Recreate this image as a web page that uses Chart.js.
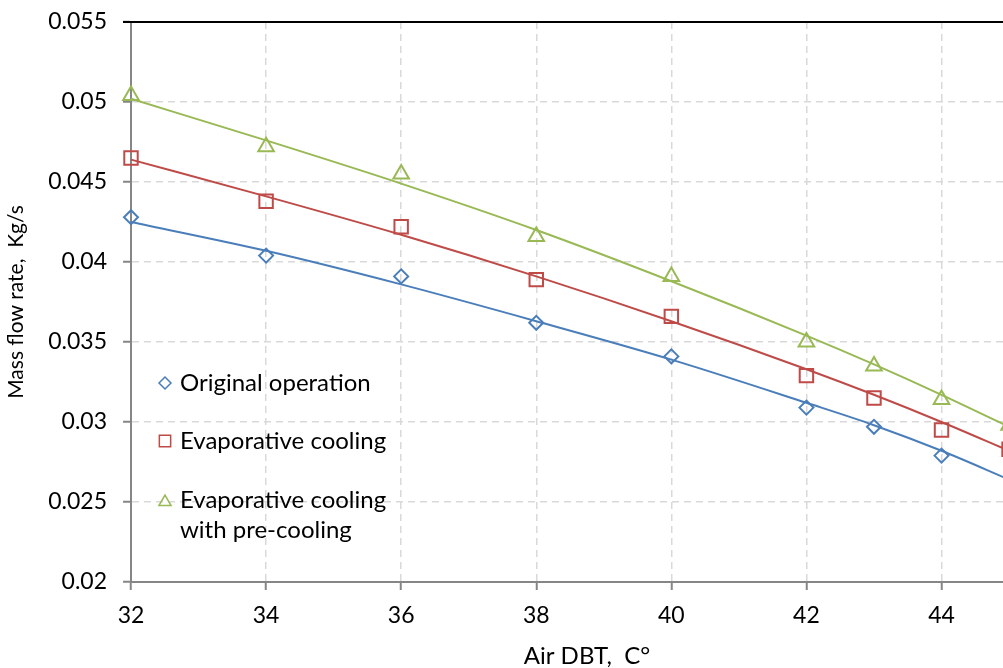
<!DOCTYPE html>
<html>
<head>
<meta charset="utf-8">
<script src="https://cdn.jsdelivr.net/npm/chart.js@4.4.0/dist/chart.umd.min.js"></script>
<style>
  html, body { margin: 0; padding: 0; background: #fff; }
  #contenedor { width: 1003px; height: 668px; position: relative; }
</style>
</head>
<body>
<div id="contenedor"><canvas id="graficaFlujo"></canvas></div>
<script>

// temperatura de bulbo seco (C)
const temperaturas = [32, 34, 36, 38, 40, 42, 43, 44, 45];

// caudal masico medido (Kg/s)
const original    = [0.0428, 0.0404, 0.0391, 0.0362, 0.0341, 0.0309, 0.0297, 0.0279];
const evaporativo = [0.0465, 0.0438, 0.0422, 0.0389, 0.0366, 0.0329, 0.0315, 0.0295, 0.0283];
const preenfriado = [0.0504, 0.0472, 0.0455, 0.0416, 0.0391, 0.0350, 0.0335, 0.0314, 0.0298];

// lineas de tendencia
const tendOriginal    = [0.0425, 0.0407, 0.0386, 0.0363, 0.0339, 0.0312, 0.0298, 0.0282, 0.0264];
const tendEvaporativo = [0.0464, 0.0441, 0.0417, 0.0391, 0.0363, 0.0333, 0.0317, 0.0300, 0.0282];
const tendPreenfriado = [0.0502, 0.0476, 0.0449, 0.0420, 0.0388, 0.0354, 0.0336, 0.0317, 0.0297];

const etiquetas = ['Original operation', 'Evaporative cooling', ['Evaporative cooling', 'with pre-cooling']];
const ticksX = [32, 34, 36, 38, 40, 42, 44];
const ticksY = [0.02, 0.025, 0.03, 0.035, 0.04, 0.045, 0.05, 0.055];

const azul = '#4a7ebb';
const rojo = '#be4b48';
const verde = '#98b954';
const fuente = 'Lato, "Open Sans", sans-serif';

function puntos(valores) {
  let res = [];
  for (let i = 0; i < valores.length; i++) {
    res.push({ x: temperaturas[i], y: valores[i] });
  }
  return res;
}

function serieMarcas(nombre, valores, color, estilo, radio) {
  return {
    label: nombre,
    data: puntos(valores),
    showLine: false,
    pointStyle: estilo,
    pointRadius: radio,
    pointHoverRadius: radio,
    pointBorderWidth: 2,
    borderColor: color,
    backgroundColor: 'rgba(0,0,0,0)',
    clip: false,
    order: 1,
  };
}

function serieTendencia(valores, color) {
  return {
    label: '',
    data: puntos(valores),
    showLine: true,
    pointRadius: 0,
    borderColor: color,
    borderWidth: 2,
    cubicInterpolationMode: 'monotone',
    fill: false,
    clip: false,
    enLeyenda: false,
    order: 2,
  };
}

// el area de dibujo sigue hasta el borde del lienzo (la grafica queda cortada)
const areaCortada = {
  id: 'areaCortada',
  afterLayout(chart) {
    chart.chartArea.right = chart.width + 20;
    chart.chartArea.width = chart.chartArea.right - chart.chartArea.left;
  }
};

// leyenda dentro del area del grafico
const leyenda = {
  id: 'leyendaInterna',
  afterDraw(chart) {
    const ctx = chart.ctx;
    let filas = [383, 441, 500];
    let i = 0;
    ctx.save();
    ctx.font = '24px ' + fuente;
    ctx.fillStyle = '#000';
    ctx.textBaseline = 'middle';
    chart.data.datasets.forEach(ds => {
      if (ds.enLeyenda === false) return;
      let y = filas[i];
      ctx.strokeStyle = ds.borderColor;
      ctx.fillStyle = 'rgba(0,0,0,0)';
      ctx.lineWidth = 1.5;
      Chart.helpers.drawPoint(ctx, {
        pointStyle: ds.pointStyle,
        radius: ds.pointStyle === 'rect' ? 8 : (ds.pointStyle === 'triangle' ? 7 : 6),
        rotation: 0,
        borderWidth: 1.5,
      }, 165, ds.pointStyle === 'triangle' ? y + 2 : y);
      ctx.fillStyle = '#000';
      let lineas = Array.isArray(ds.label) ? ds.label : [ds.label];
      lineas.forEach((t, k) => ctx.fillText(t, 180, y + k * 30));
      i++;
    });
    // linea negra superior, eje x prolongado y titulo del eje x
    const area = chart.chartArea;
    const ejeX = chart.scales.x;
    ctx.strokeStyle = '#868686';
    ctx.lineWidth = 2;
    ctx.beginPath();
    ctx.moveTo(ejeX.right - 1, ejeX.top);
    ctx.lineTo(chart.width, ejeX.top);
    ctx.stroke();
    ctx.strokeStyle = '#000';
    ctx.beginPath();
    ctx.moveTo(area.left - 8, area.top);
    ctx.lineTo(chart.width, area.top);
    ctx.stroke();
    ctx.textAlign = 'center';
    ctx.fillText('Air DBT,  C°', 587, 656);
    ctx.restore();
  }
};

const ctx = document.getElementById('graficaFlujo');

const chart = new Chart(ctx, {
  type: 'scatter',
  data: {
    datasets: [
      serieMarcas(etiquetas[0], original, azul, 'rectRot', 7),
      serieMarcas(etiquetas[1], evaporativo, rojo, 'rect', 9.5),
      serieMarcas(etiquetas[2], preenfriado, verde, 'triangle', 9),
      serieTendencia(tendOriginal, azul),
      serieTendencia(tendEvaporativo, rojo),
      serieTendencia(tendPreenfriado, verde),
    ]
  },
  options: {
    responsive: true,
    maintainAspectRatio: false,
    animation: false,
    layout: { padding: { top: 22, right: 0, left: 0, bottom: 0 } },
    plugins: {
      legend: { display: false },
      tooltip: { enabled: false },
    },
    scales: {
      x: {
        type: 'linear',
        min: 32,
        max: 44.74,
        afterBuildTicks: s => { s.ticks = ticksX.map(v => ({ value: v })); },
        afterFit: s => { s.height = 86; s.paddingLeft = 0; s.paddingRight = 0; },
        grid: {
          color: '#d9d9d9',
          lineWidth: 1.5,
          tickColor: '#868686',
          tickLength: 8,
          tickWidth: 2,
          tickBorderDash: [],
        },
        border: { color: '#868686', width: 2, dash: [7, 5] },
        ticks: {
          color: '#000',
          font: { family: fuente, size: 23 },
          padding: 12,
          maxRotation: 0,
        },
      },
      y: {
        type: 'linear',
        min: 0.02,
        max: 0.055,
        afterBuildTicks: s => { s.ticks = ticksY.map(v => ({ value: v })); },
        afterFit: s => { s.width = 131; s.paddingTop = 0; s.paddingBottom = 0; },
        grid: {
          color: '#d9d9d9',
          lineWidth: 1.5,
          tickColor: '#868686',
          tickLength: 8,
          tickWidth: 2,
          tickBorderDash: [],
        },
        border: { color: '#868686', width: 2, dash: [7, 5] },
        ticks: {
          color: '#000',
          font: { family: fuente, size: 23 },
          padding: 16,
          callback: v => String(Number(v.toFixed(3))),
        },
        title: {
          display: true,
          text: 'Mass flow rate,  Kg/s',
          color: '#000',
          font: { family: fuente, size: 21 },
          padding: { top: 4, bottom: 0 },
        },
      },
    },
  },
  plugins: [areaCortada, leyenda],
});

</script>
</body>
</html>
